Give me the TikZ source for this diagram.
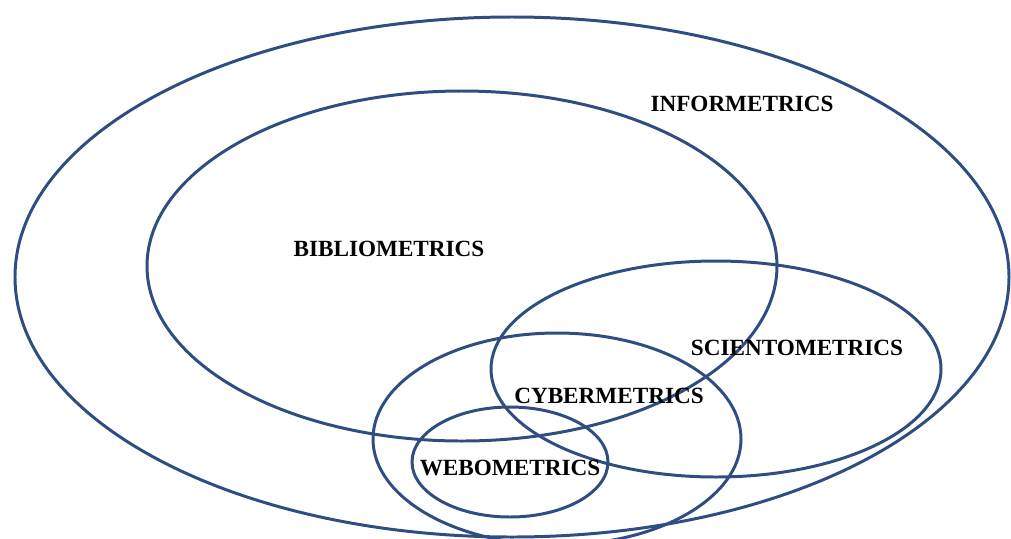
\documentclass[tikz,border=0pt]{standalone}
\usepackage{fontspec}
\setmainfont{Liberation Serif}
\usepackage{tikz}

\definecolor{vennblue}{RGB}{46,78,130}
\tikzset{
  venn/.style={draw=vennblue, line width=1.7pt},
  lbl/.style={font=\fontsize{13.2}{16}\selectfont\bfseries, text=black, inner sep=0pt}
}

\begin{document}
\begin{tikzpicture}[x=0.02cm, y=-0.02cm]
                    \useasboundingbox (0, 0) rectangle (1011, 538);

                    \draw[venn] (512, 277) ellipse (497 and 260);
                    \draw[venn] (462, 266) ellipse (315 and 175);
                    \draw[venn] (716, 369) ellipse (225 and 108);
                    \draw[venn] (557, 439) ellipse (184 and 106);
                    \draw[venn] (510, 462) ellipse (98 and 55);

                    \node (INFO) [lbl] at (742, 104) {INFORMETRICS};
                    \node (BIBLIO) [lbl] at (389, 249) {BIBLIOMETRICS};
                    \node (SCIENTO) [lbl] at (797, 348) {SCIENTOMETRICS};
                    \node (CYBER) [lbl] at (609, 396) {CYBERMETRICS};
                    \node (WEBO) [lbl] at (510, 468) {WEBOMETRICS};
                \end{tikzpicture}
\end{document}
